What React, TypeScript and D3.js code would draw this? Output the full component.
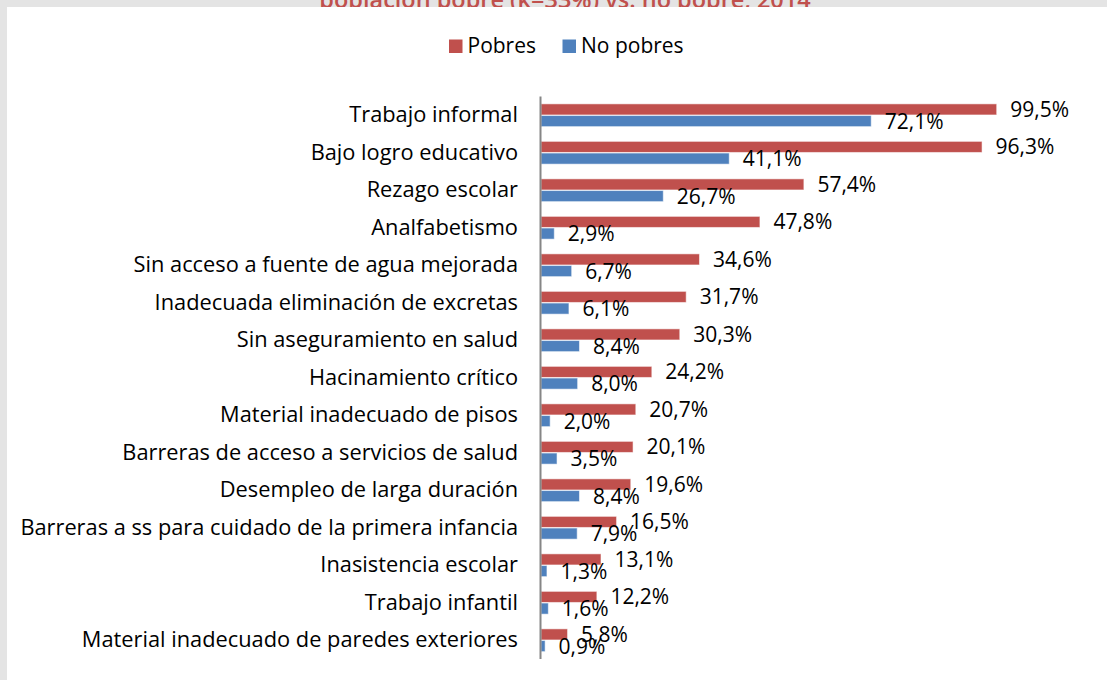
import React from "react";
import * as d3 from "d3";

const title = "población pobre (k=33%) vs. no pobre, 2014";
const seriesNames = ["Pobres", "No pobres"];
const categories = [
  "Trabajo informal",
  "Bajo logro educativo",
  "Rezago escolar",
  "Analfabetismo",
  "Sin acceso a fuente de agua mejorada",
  "Inadecuada eliminación de excretas",
  "Sin aseguramiento en salud",
  "Hacinamiento crítico",
  "Material inadecuado de pisos",
  "Barreras de acceso a servicios de salud",
  "Desempleo de larga duración",
  "Barreras a ss para cuidado de la primera infancia",
  "Inasistencia escolar",
  "Trabajo infantil",
  "Material inadecuado de paredes exteriores",
];
const pobres = [99.5, 96.3, 57.4, 47.8, 34.6, 31.7, 30.3, 24.2, 20.7, 20.1, 19.6, 16.5, 13.1, 12.2, 5.8];
const noPobres = [72.1, 41.1, 26.7, 2.9, 6.7, 6.1, 8.4, 8.0, 2.0, 3.5, 8.4, 7.9, 1.3, 1.6, 0.9];

const W = 1107;
const H = 680;
const COLORS = ["#C0504D", "#4F81BD"];
const FONT = "'Open Sans', sans-serif";

export default function App() {
  const x = d3.scaleLinear().domain([0, 100]).range([541, 999]);
  const y = d3.scaleBand<string>().domain(categories).range([96.5, 659]).padding(0);
  const inner = d3
    .scaleBand<string>()
    .domain(seriesNames)
    .range([0, y.bandwidth()])
    .paddingInner(0.05)
    .paddingOuter(0.63);
  const fmt = (v: number) => d3.format(".1f")(v).replace(".", ",") + "%";
  const series = [pobres, noPobres];

  return (
    <svg
      width={W}
      height={H}
      style={{ position: "absolute", left: 0, top: 0, display: "block" }}
      fontFamily={FONT}
    >
      <rect x={0} y={0} width={W} height={H} fill="#E4E4E4" />
      <text
        x={565}
        y={8}
        textAnchor="middle"
        fontSize={23.5}
        fontWeight={600}
        fill="#C0504D"
      >
        {title}
      </text>
      <rect x={7} y={7} width={W - 7} height={H - 7} fill="#FFFFFF" />

      {/* legend */}
      <g>
        <rect x={449} y={39.5} width={13.5} height={13.5} fill={COLORS[0]} />
        <text x={467.5} y={52.7} fontSize={21} fill="#000">
          {seriesNames[0]}
        </text>
        <rect x={562.5} y={39.5} width={13.5} height={13.5} fill={COLORS[1]} />
        <text x={581} y={52.7} fontSize={21} fill="#000">
          {seriesNames[1]}
        </text>
      </g>

      {/* bars */}
      {categories.map((c, i) => (
        <g key={c}>
          {series.map((s, k) => (
            <rect
              key={k}
              x={x(0)}
              y={(y(c) as number) + (inner(seriesNames[k]) as number)}
              width={x(s[i]) - x(0)}
              height={inner.bandwidth()}
              fill={COLORS[k]}
              stroke="rgba(255,255,255,0.55)"
              strokeWidth={1}
            />
          ))}
        </g>
      ))}

      {/* axis line */}
      <line x1={540.5} x2={540.5} y1={y.range()[0]} y2={y.range()[1]} stroke="#868686" strokeWidth={2} />

      {/* category labels */}
      {categories.map((c) => (
        <text
          key={c}
          x={518}
          y={(y(c) as number) + y.bandwidth() / 2 + 7}
          textAnchor="end"
          fontSize={21.8}
          fill="#000"
        >
          {c}
        </text>
      ))}

      {/* data labels */}
      {categories.map((c, i) => (
        <g key={c}>
          {series.map((s, k) => (
            <text
              key={k}
              x={x(s[i]) + 13.5}
              y={(y(c) as number) + (inner(seriesNames[k]) as number) + inner.bandwidth() / 2 + 7.5}
              fontSize={21}
              fill="#000"
            >
              {fmt(s[i])}
            </text>
          ))}
        </g>
      ))}
    </svg>
  );
}
